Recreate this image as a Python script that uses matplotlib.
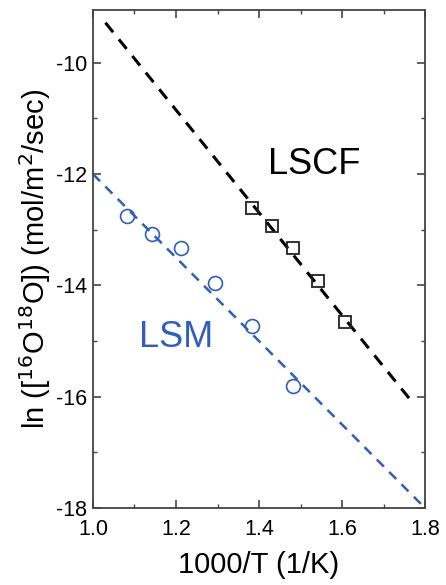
import numpy as np
import matplotlib.pyplot as plt

plt.rcParams['font.family'] = ['Liberation Sans', 'DejaVu Sans']
plt.rcParams['axes.unicode_minus'] = False

# LSCF (squares) and LSM (circles) data
lscf_x = [1.382, 1.432, 1.483, 1.543, 1.606]
lscf_y = [-12.61, -12.93, -13.33, -13.92, -14.66]
lsm_x = [1.082, 1.143, 1.212, 1.295, 1.382, 1.483]
lsm_y = [-12.75, -13.08, -13.33, -13.96, -14.73, -15.81]

# fitted lines (end points)
lscf_fit_x = [1.03, 1.775]
lscf_fit_y = [-9.28, -16.15]
lsm_fit_x = [1.0, 1.8]
lsm_fit_y = [-12.0, -18.0]

blue = '#2f5fb8'

fig = plt.figure(figsize=(4.46, 5.85), dpi=100)
ax = fig.add_axes([0.2085, 0.1316, 0.7445, 0.8514])

ax.plot(lscf_fit_x, lscf_fit_y, color='black', ls=(0, (4, 3)), lw=2.2)
ax.plot(lsm_fit_x, lsm_fit_y, color=blue, ls=(0, (4, 3)), lw=1.8)
ax.plot(lscf_x, lscf_y, 's', mfc='none', mec='#222222', ms=9, mew=1.3)
ax.plot(lsm_x, lsm_y, 'o', mfc='none', mec=blue, ms=10, mew=1.2)

ax.text(1.534, -11.83, 'LSCF', fontsize=26, ha='center', va='center', color='black')
ax.text(1.20, -14.93, 'LSM', fontsize=26, ha='center', va='center', color=blue)

ax.set_xlim(1.0, 1.8)
ax.set_ylim(-18, -9.05)
ax.set_xticks([1.0, 1.2, 1.4, 1.6, 1.8])
ax.set_xticks(np.arange(1.1, 1.8, 0.2), minor=True)
ax.set_yticks([-18, -16, -14, -12, -10])
ax.set_yticks([-17, -15, -13, -11], minor=True)
ax.tick_params(which='both', direction='in', top=True, right=True, labelsize=15.5, color='#444444')
ax.tick_params(which='major', length=6, width=1.2)
ax.tick_params(which='minor', length=3, width=1.0)
ax.tick_params(axis='x', pad=8)
ax.tick_params(axis='y', pad=4)
for s in ax.spines.values():
    s.set_color('#444444')
    s.set_linewidth(1.3)

ax.set_xlabel('1000/T (1/K)', fontsize=21, labelpad=8)
ax.set_ylabel(r'ln ([$^{16}$O$^{18}$O]) (mol/m$^{2}$/sec)', fontsize=21, labelpad=2)

fig.savefig('out.png', dpi=100)
